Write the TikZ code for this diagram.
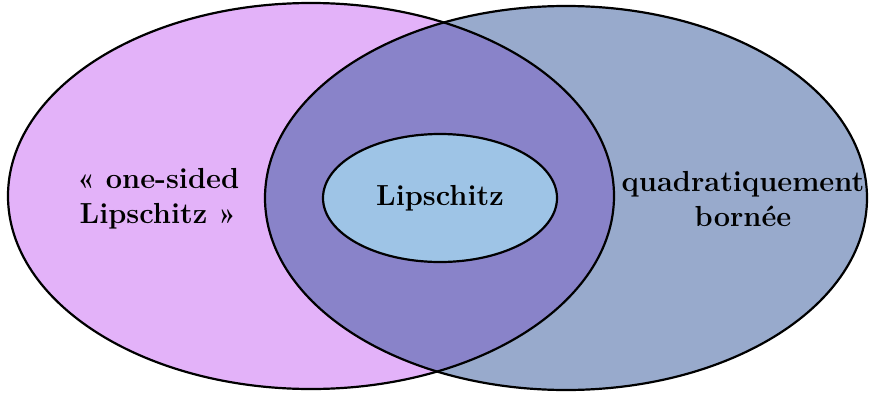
\documentclass[tikz,border=0pt]{standalone}
\usepackage{tikz}
\definecolor{setA}{RGB}{227,178,249}
\definecolor{setB}{RGB}{152,170,204}
\definecolor{setAB}{RGB}{137,131,201}
\definecolor{setL}{RGB}{158,196,230}
\tikzset{lbl/.style={font=\fontsize{14.5}{17.5}\selectfont\bfseries, align=center}}

\begin{document}
\begin{tikzpicture}[x=0.5pt,y=0.5pt,line width=1.1pt]
		\useasboundingbox (0,0) rectangle (871,392);
		% the two sets
		\coordinate (A) at (311,196);
		\coordinate (B) at (566,194);
		\coordinate (L) at (440,194);
		\fill[setA] (A) ellipse [x radius=303, y radius=193];
		\fill[setB] (B) ellipse [x radius=301, y radius=192];
		\begin{scope}
			\clip (A) ellipse [x radius=303, y radius=193];
			\fill[setAB] (B) ellipse [x radius=301, y radius=192];
		\end{scope}
		\draw (A) ellipse [x radius=303, y radius=193];
		\draw (B) ellipse [x radius=301, y radius=192];
		% inner set
		\draw[fill=setL] (L) ellipse [x radius=117, y radius=64];
		% labels
		\node[lbl] (osl) at (158,193) {« one-sided\\Lipschitz »};
		\node[lbl] (lip) at (L) {Lipschitz};
		\node[lbl] (qb) at (743,193) {quadratiquement\\bornée};
	\end{tikzpicture}
\end{document}
